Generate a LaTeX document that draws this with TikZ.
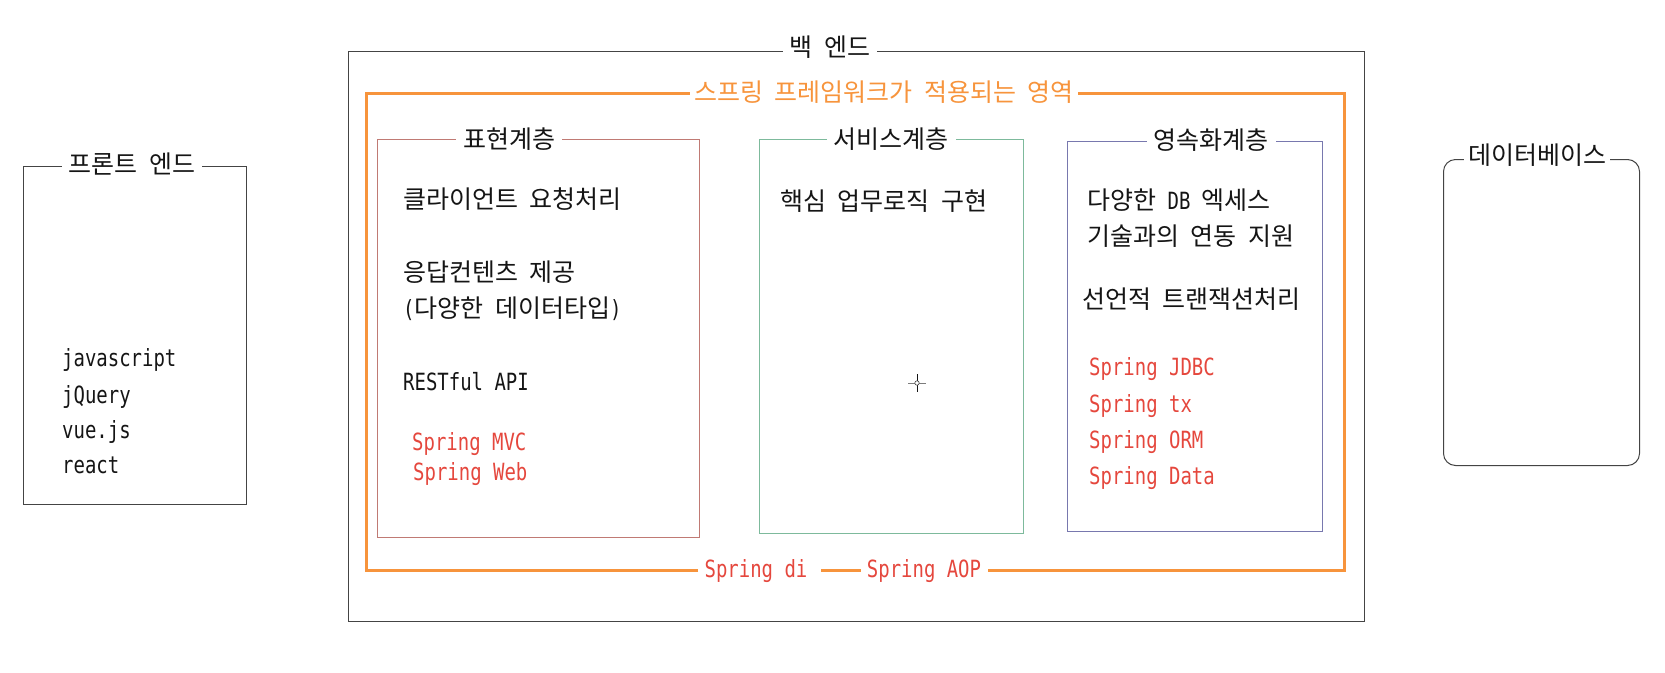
\documentclass[tikz,border=0pt]{standalone}
\usepackage{fontspec}
\usetikzlibrary{calc}
\setmainfont[FakeStretch=0.8]{DejaVu Sans Mono}
\newfontfamily\krfont{Noto Sans CJK KR}
\newcommand\K[1]{{\krfont\fontsize{25}{29}\selectfont #1}}
\definecolor{orangeC}{HTML}{F7943C}
\definecolor{redC}{HTML}{E5473D}
\definecolor{brownC}{HTML}{C07A74}
\definecolor{greenC}{HTML}{7DBA9C}
\definecolor{blueC}{HTML}{7878AE}
\definecolor{greyC}{HTML}{444444}
\definecolor{inkC}{HTML}{151515}
\tikzset{
  box/.style={draw, inner sep=0pt, anchor=north west, line width=1pt},
  tx/.style={anchor=west, inner sep=0pt, text=inkC, font=\fontsize{23.7}{27}\selectfont, text height=17pt, text depth=5pt},
  rtx/.style={tx, text=redC},
  ttl/.style={fill=white, inner xsep=7pt, inner ysep=1pt, text=inkC, font=\fontsize{23.7}{27}\selectfont, text height=17pt, text depth=5pt},
}
\begin{document}
\begin{tikzpicture}[x=1pt,y=-1pt]
\useasboundingbox[fill=white] (0,0) rectangle (1665,672);

% front end
\node[box, draw=greyC, minimum width=223pt, minimum height=338pt] (fe) at (23,166) {};
\node[ttl] (fet) at (132,167) {\K{프론트} \K{엔드}};
\node[tx] (js) at (62,360) {javascript};
\node[tx] (jq) at (62,397) {jQuery};
\node[tx] (vue) at (62,432) {vue.js};
\node[tx] (re) at (62,467) {react};

% back end
\node[box, draw=greyC, minimum width=1016pt, minimum height=570pt] (be) at (348,51) {};
\node[ttl] (bet) at (830,50) {\K{백} \K{엔드}};

% spring area (orange frame)
\coordinate (otl) at (366,93);
\coordinate (otr) at (1344,93);
\coordinate (obl) at (366,570);
\coordinate (obr) at (1344,570);
\coordinate (og1) at (698,570);
\coordinate (og2) at (821,570);
\coordinate (og3) at (861,570);
\coordinate (og4) at (988,570);
\draw[orangeC, line width=3pt, line join=miter] (og1) -- (obl) -- (otl) -- (otr) -- (obr) -- (og4);
\draw[orangeC, line width=3pt] (og2) -- (og3);
\node[ttl, text=orangeC, inner xsep=4pt] (ot) at (884,95) {\K{스프링} \K{프레임워크가} \K{적용되는} \K{영역}};
\node[rtx, anchor=center] (di) at (756,571) {Spring di};
\node[rtx, anchor=center] (aop) at (924,571) {Spring AOP};

% presentation layer
\node[box, draw=brownC, minimum width=322pt, minimum height=398pt] (pres) at (377,139) {};
\node[ttl] (prest) at (509,142) {\K{표현계층}};
\node[tx] (p1) at (403,202) {\K{클라이언트} \K{요청처리}};
\node[tx] (p2) at (403,275) {\K{응답컨텐츠} \K{제공}};
\node[tx] (p3) at (403,311) {(\K{다양한} \K{데이터타입})};
\node[tx] (p4) at (403,384) {RESTful API};
\node[rtx] (p5) at (412,444) {Spring MVC};
\node[rtx] (p6) at (413,474) {Spring Web};

% service layer
\node[box, draw=greenC, minimum width=264pt, minimum height=394pt] (svc) at (759,139) {};
\node[ttl] (svct) at (891,142) {\K{서비스계층}};
\node[tx] (s1) at (780,204) {\K{핵심} \K{업무로직} \K{구현}};
\coordinate (cur) at (917,383);
\draw[greyC!70, line width=0.8pt] ($(cur)+(-9,0)$) -- ($(cur)+(9,0)$);
\draw[inkC, line width=0.8pt] ($(cur)+(0,-9)$) -- ($(cur)+(0,9)$);
\draw[greyC, fill=white, line width=0.6pt] (cur) circle (2.2pt);

% persistence layer
\node[box, draw=blueC, minimum width=255pt, minimum height=390pt] (per) at (1067,141) {};
\node[ttl] (pert) at (1211,143) {\K{영속화계층}};
\node[tx] (q1) at (1087,203) {\K{다양한} DB \K{엑세스}};
\node[tx] (q2) at (1087,239) {\K{기술과의} \K{연동} \K{지원}};
\node[tx] (q3) at (1082,302) {\K{선언적} \K{트랜잭션처리}};
\node[rtx] (q4) at (1089,369) {Spring JDBC};
\node[rtx] (q5) at (1089,406) {Spring tx};
\node[rtx] (q6) at (1089,442) {Spring ORM};
\node[rtx] (q7) at (1089,478) {Spring Data};

% database
\node[box, draw=greyC, rounded corners=12pt, minimum width=196pt, minimum height=306pt] (db) at (1443,159) {};
\node[ttl, inner xsep=4pt] (dbt) at (1537,158) {\K{데이터베이스}};
\end{tikzpicture}
\end{document}
